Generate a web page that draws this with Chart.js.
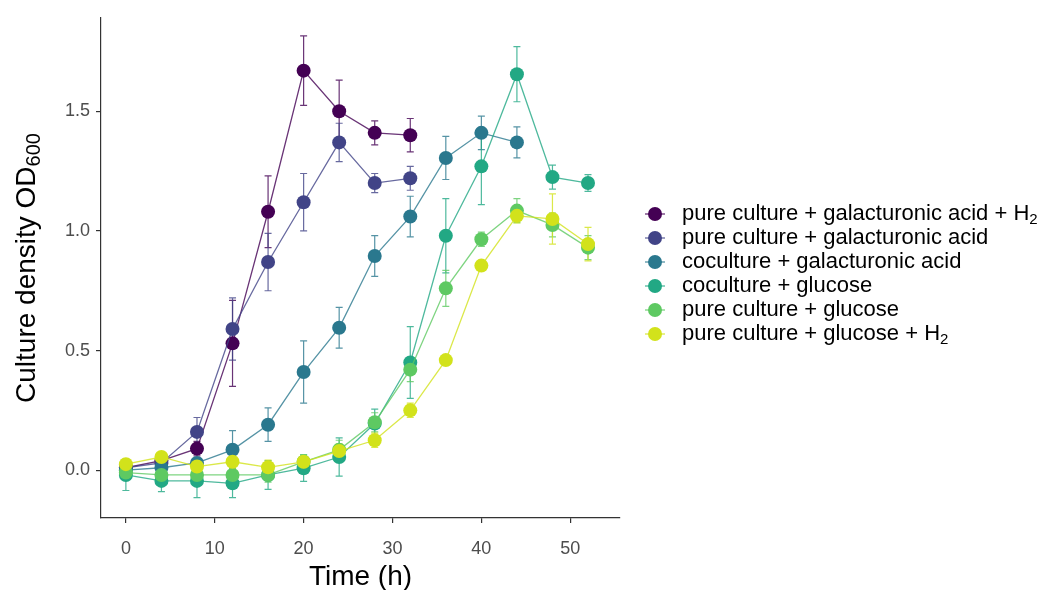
<!DOCTYPE html>
<html>
<head>
<meta charset="utf-8">
<script src="https://cdn.jsdelivr.net/npm/chart.js@4.4.1/dist/chart.umd.min.js"></script>
<style>
  html, body { margin: 0; padding: 0; background: #fff; }
  #wrap { width: 1037px; height: 590px; }
</style>
</head>
<body>
<div id="wrap"><canvas id="growthChart" width="1037" height="590"></canvas></div>
<script>
// sampling times (h)
const times = [0, 4, 8, 12, 16, 20, 24, 28, 32, 36, 40, 44, 48, 52];

// OD600 means and error (sd) per condition
const pureGalaH2 = [0.01, 0.04, 0.09, 0.53, 1.08, 1.67, 1.50, 1.41, 1.40];
const pureGalaH2Err = [0.02, 0.02, 0.03, 0.18, 0.15, 0.145, 0.13, 0.05, 0.07];

const pureGala = [0.01, 0.03, 0.16, 0.59, 0.87, 1.12, 1.37, 1.20, 1.22];
const pureGalaErr = [0.02, 0.02, 0.06, 0.13, 0.12, 0.12, 0.08, 0.04, 0.05];

const coGala = [0.0, 0.01, 0.03, 0.085, 0.19, 0.41, 0.595, 0.895, 1.06, 1.305, 1.41, 1.37];
const coGalaErr = [0.02, 0.02, 0.02, 0.08, 0.07, 0.13, 0.085, 0.085, 0.085, 0.09, 0.07, 0.065];

const coGlc = [-0.02, -0.045, -0.045, -0.055, -0.02, 0.008, 0.055, 0.195, 0.45, 0.98, 1.27, 1.655, 1.225, 1.20];
const coGlcErr = [0.065, 0.045, 0.07, 0.06, 0.06, 0.055, 0.08, 0.06, 0.15, 0.155, 0.16, 0.115, 0.05, 0.035];

const pureGlc = [-0.01, -0.02, -0.02, -0.02, -0.02, 0.035, 0.085, 0.20, 0.42, 0.76, 0.965, 1.085, 1.025, 0.93];
const pureGlcErr = [0.02, 0.02, 0.03, 0.03, 0.03, 0.03, 0.04, 0.04, 0.05, 0.075, 0.03, 0.05, 0.05, 0.05];

const pureGlcH2 = [0.025, 0.055, 0.015, 0.035, 0.012, 0.035, 0.08, 0.125, 0.25, 0.46, 0.855, 1.063, 1.05, 0.945];
const pureGlcH2Err = [0.02, 0.02, 0.02, 0.03, 0.03, 0.02, 0.03, 0.03, 0.03, 0.02, 0.02, 0.03, 0.105, 0.07];

// "_" marks the start of a subscript
const seriesLabels = [
  'pure culture + galacturonic acid + H_2',
  'pure culture + galacturonic acid',
  'coculture + galacturonic acid',
  'coculture + glucose',
  'pure culture + glucose',
  'pure culture + glucose + H_2'
];
const seriesValues = [pureGalaH2, pureGala, coGala, coGlc, pureGlc, pureGlcH2];
const seriesErrors = [pureGalaH2Err, pureGalaErr, coGalaErr, coGlcErr, pureGlcErr, pureGlcH2Err];
const colors = ['#440154', '#414487', '#2A788E', '#22A884', '#5EC962', '#D2E21B'];

const xTicks = [0, 10, 20, 30, 40, 50];
const yTicks = [0, 0.5, 1.0, 1.5];

const FONT = "'Liberation Sans', Arial, sans-serif";

function withAlpha(hex, a) {
  const n = parseInt(hex.slice(1), 16);
  return `rgba(${(n >> 16) & 255}, ${(n >> 8) & 255}, ${n & 255}, ${a})`;
}

const datasets = seriesValues.map((vals, i) => ({
  label: seriesLabels[i].replace('_', ''),
  data: vals.map((v, j) => ({ x: times[j], y: v })),
  errors: seriesErrors[i],
  borderColor: withAlpha(colors[i], 0.8),
  backgroundColor: colors[i],
  pointBackgroundColor: colors[i],
  pointBorderWidth: 0,
  pointRadius: 7,
  pointHoverRadius: 7,
  borderWidth: 1.3,
  tension: 0,
  order: seriesValues.length - i
}));

// vertical error bars with small caps, under the points
const errorBars = {
  id: 'errorBars',
  beforeDatasetsDraw(chart) {
    const { ctx, scales: { x, y } } = chart;
    ctx.save();
    ctx.lineWidth = 1.2;
    chart.data.datasets.forEach(ds => {
      ctx.strokeStyle = ds.borderColor;
      ds.data.forEach((p, i) => {
        const e = ds.errors[i];
        const px = x.getPixelForValue(p.x);
        const top = y.getPixelForValue(p.y + e);
        const bot = y.getPixelForValue(p.y - e);
        ctx.beginPath();
        ctx.moveTo(px, top); ctx.lineTo(px, bot);
        ctx.moveTo(px - 3.5, top); ctx.lineTo(px + 3.5, top);
        ctx.moveTo(px - 3.5, bot); ctx.lineTo(px + 3.5, bot);
        ctx.stroke();
      });
    });
    ctx.restore();
  }
};

// draws text where "_" starts a subscript; returns width
function drawRich(ctx, text, x, y, size) {
  const [main, sub] = text.split('_');
  ctx.font = `${size}px ${FONT}`;
  ctx.fillText(main, x, y);
  let w = ctx.measureText(main).width;
  if (sub) {
    ctx.font = `${Math.round(size * 0.7)}px ${FONT}`;
    ctx.fillText(sub, x + w, y + size * 0.28);
    w += ctx.measureText(sub).width;
  }
  return w;
}

function richWidth(ctx, text, size) {
  const [main, sub] = text.split('_');
  ctx.font = `${size}px ${FONT}`;
  let w = ctx.measureText(main).width;
  if (sub) {
    ctx.font = `${Math.round(size * 0.7)}px ${FONT}`;
    w += ctx.measureText(sub).width;
  }
  return w;
}

// axis titles and legend
const annotations = {
  id: 'annotations',
  afterDraw(chart) {
    const { ctx, chartArea } = chart;
    ctx.save();
    ctx.fillStyle = '#000';
    ctx.textBaseline = 'middle';
    ctx.textAlign = 'left';

    // x title
    ctx.font = `28px ${FONT}`;
    const xt = 'Time (h)';
    const xw = ctx.measureText(xt).width;
    ctx.fillText(xt, (chartArea.left + chartArea.right) / 2 - xw / 2, 577);

    // y title, rotated
    const yt = 'Culture density OD_600';
    const yw = richWidth(ctx, yt, 28);
    ctx.translate(27, (chartArea.top + chartArea.bottom) / 2);
    ctx.rotate(-Math.PI / 2);
    drawRich(ctx, yt, -yw / 2, 0, 28);
    ctx.setTransform(1, 0, 0, 1, 0, 0);

    // legend
    seriesLabels.forEach((lab, i) => {
      const cy = 214 + i * 24;
      ctx.strokeStyle = withAlpha(colors[i], 0.8);
      ctx.lineWidth = 1.3;
      ctx.beginPath();
      ctx.moveTo(645, cy); ctx.lineTo(665, cy);
      ctx.stroke();
      ctx.fillStyle = colors[i];
      ctx.beginPath();
      ctx.arc(655, cy, 7, 0, Math.PI * 2);
      ctx.fill();
      ctx.fillStyle = '#000';
      drawRich(ctx, lab, 682, cy, 22);
    });
    ctx.restore();
  }
};

const axisStyle = {
  grid: { display: true, drawOnChartArea: false, drawTicks: true, tickLength: 5, color: '#333', lineWidth: 1.2 },
  border: { display: true, color: '#333', width: 1.2 }
};

new Chart(document.getElementById('growthChart'), {
  type: 'line',
  data: { datasets },
  options: {
    responsive: false,
    devicePixelRatio: 1,
    animation: false,
    layout: { padding: { top: 18, right: 417, bottom: 0, left: 0 } },
    plugins: {
      legend: { display: false },
      tooltip: { enabled: false }
    },
    scales: {
      x: {
        type: 'linear',
        min: -2.8,
        max: 55.6,
        ...axisStyle,
        afterBuildTicks: s => { s.ticks = xTicks.map(v => ({ value: v })); },
        afterFit: s => { s.height = 72; },
        ticks: {
          font: { size: 18, family: FONT },
          color: '#4d4d4d',
          padding: 15,
          maxRotation: 0,
          callback: v => String(v)
        }
      },
      y: {
        type: 'linear',
        min: -0.2,
        max: 1.89,
        ...axisStyle,
        afterBuildTicks: s => { s.ticks = yTicks.map(v => ({ value: v })); },
        afterFit: s => { s.width = 101; },
        ticks: {
          font: { size: 18, family: FONT },
          color: '#4d4d4d',
          padding: 6,
          callback: v => v.toFixed(1)
        }
      }
    }
  },
  plugins: [errorBars, annotations]
});
</script>
</body>
</html>
